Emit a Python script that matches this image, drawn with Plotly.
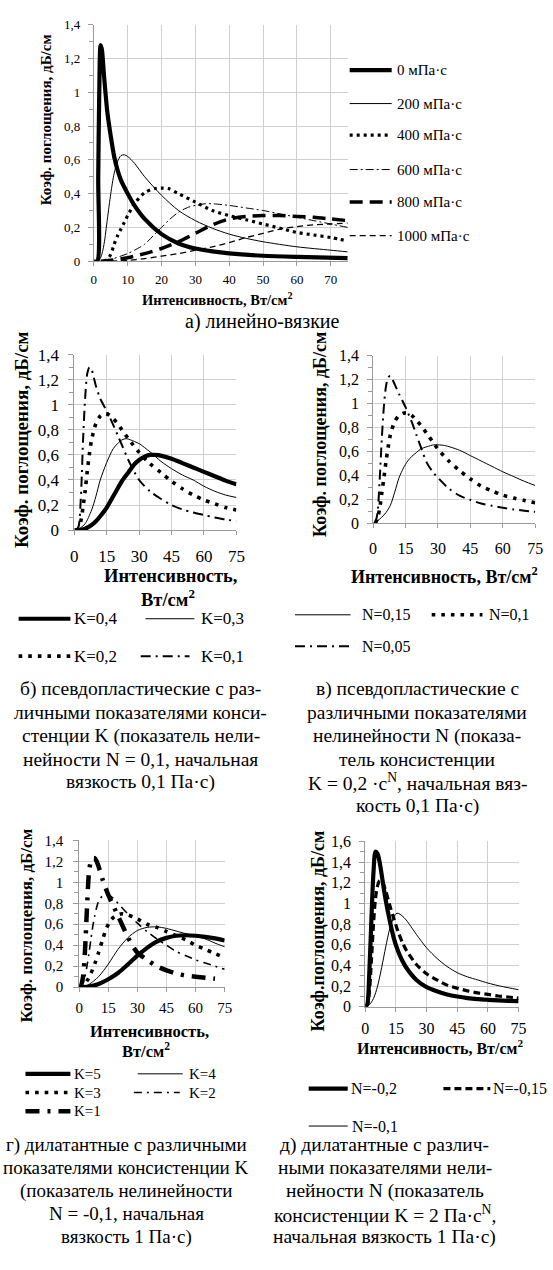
import plotly.graph_objects as go

W, H = 553, 1270
FONT = "'Liberation Serif', 'Times New Roman', Tinos, 'DejaVu Serif', serif"

# ================= DATA =================
# а) линейно-вязкие
a_names = ["0 мПа·с", "200 мПа·с", "400 мПа·с", "600 мПа·с", "800 мПа·с", "1000 мПа·с"]
a0_x = [0, 1, 1.3, 1.6, 2, 2.4, 3, 4, 5, 6, 7, 8, 10, 12, 15, 20, 25, 30, 35, 40, 50, 60, 75]
a0_y = [0, 0, 0.5, 1.0, 1.28, 1.25, 1.1, 0.88, 0.74, 0.62, 0.54, 0.48, 0.40, 0.33, 0.25, 0.16, 0.105, 0.075, 0.058, 0.046, 0.032, 0.025, 0.018]
a200_x = [1, 2, 3, 4, 5, 6, 7, 8, 9, 10, 12, 15, 20, 25, 30, 35, 40, 45, 50, 60, 70, 75]
a200_y = [0, 0.02, 0.1, 0.25, 0.4, 0.52, 0.59, 0.625, 0.63, 0.62, 0.58, 0.5, 0.39, 0.3, 0.24, 0.195, 0.16, 0.135, 0.115, 0.085, 0.065, 0.055]
a400_x = [3, 4, 5, 6, 7, 8, 9, 10, 12, 15, 18, 20, 22, 25, 30, 35, 40, 45, 50, 55, 60, 65, 70, 75]
a400_y = [0, 0.01, 0.04, 0.1, 0.15, 0.19, 0.23, 0.27, 0.34, 0.405, 0.43, 0.433, 0.43, 0.40, 0.35, 0.30, 0.27, 0.245, 0.22, 0.195, 0.17, 0.155, 0.14, 0.12]
a600_x = [3, 5, 8, 10, 12, 15, 18, 20, 22, 25, 28, 30, 33, 35, 40, 45, 50, 55, 60, 65, 70, 75]
a600_y = [0, 0.01, 0.03, 0.045, 0.065, 0.10, 0.16, 0.2, 0.24, 0.29, 0.32, 0.33, 0.34, 0.34, 0.33, 0.315, 0.3, 0.28, 0.26, 0.24, 0.22, 0.2]
a800_x = [2, 5, 10, 15, 20, 25, 30, 35, 40, 45, 50, 55, 60, 65, 70, 75]
a800_y = [0, 0.005, 0.02, 0.045, 0.075, 0.115, 0.165, 0.215, 0.25, 0.265, 0.27, 0.27, 0.265, 0.26, 0.25, 0.24]
a1000_x = [5, 10, 15, 20, 25, 30, 35, 40, 45, 50, 55, 60, 65, 70, 75]
a1000_y = [0, 0.005, 0.015, 0.03, 0.045, 0.065, 0.085, 0.11, 0.14, 0.165, 0.19, 0.205, 0.215, 0.22, 0.225]

# б) псевдопластические, разные K
b_names = ["K=0,4", "K=0,3", "K=0,2", "K=0,1"]
b04_x = [0, 2, 5, 8, 10, 12, 15, 18, 20, 22, 25, 28, 30, 33, 35, 37, 40, 45, 50, 55, 60, 65, 70, 75]
b04_y = [0, 0, 0.01, 0.04, 0.07, 0.11, 0.18, 0.27, 0.33, 0.39, 0.46, 0.53, 0.56, 0.59, 0.6, 0.6, 0.595, 0.57, 0.535, 0.5, 0.465, 0.43, 0.395, 0.365]
b03_x = [1, 3, 5, 8, 10, 12, 15, 18, 20, 22, 24, 26, 30, 35, 40, 45, 50, 55, 60, 65, 70, 75]
b03_y = [0, 0.02, 0.05, 0.16, 0.27, 0.4, 0.54, 0.65, 0.69, 0.72, 0.73, 0.72, 0.69, 0.625, 0.55, 0.49, 0.44, 0.4, 0.35, 0.31, 0.28, 0.26]
b02_x = [1, 2, 3, 4, 5, 6, 7, 8, 10, 12, 14, 16, 18, 20, 22, 25, 30, 35, 40, 45, 50, 55, 60, 65, 70, 75]
b02_y = [0, 0.01, 0.07, 0.18, 0.31, 0.47, 0.61, 0.72, 0.85, 0.91, 0.93, 0.92, 0.89, 0.85, 0.8, 0.73, 0.62, 0.53, 0.46, 0.39, 0.33, 0.28, 0.24, 0.21, 0.18, 0.16]
b01_x = [1, 2, 3, 3.5, 4, 5, 6, 7, 8, 9, 10, 12, 15, 18, 20, 22, 25, 30, 35, 40, 45, 50, 55, 60, 65, 70, 75]
b01_y = [0, 0.03, 0.25, 0.45, 0.7, 1.05, 1.25, 1.3, 1.28, 1.22, 1.15, 1.05, 0.95, 0.84, 0.76, 0.68, 0.56, 0.4, 0.31, 0.25, 0.2, 0.165, 0.14, 0.12, 0.1, 0.085, 0.07]

# в) псевдопластические, разные N
v_names = ["N=0,15", "N=0,1", "N=0,05"]
v15_x = [0, 2, 4, 6, 8, 10, 12, 14, 16, 18, 20, 22, 25, 28, 30, 33, 36, 40, 45, 50, 55, 60, 65, 70, 75]
v15_y = [0, 0.02, 0.05, 0.09, 0.15, 0.26, 0.38, 0.46, 0.52, 0.56, 0.59, 0.62, 0.64, 0.655, 0.655, 0.65, 0.635, 0.61, 0.565, 0.52, 0.475, 0.43, 0.39, 0.35, 0.315]
v10_x = [1, 2, 3, 4, 5, 6, 7, 8, 10, 12, 14, 16, 18, 20, 22, 25, 28, 30, 35, 40, 45, 50, 55, 60, 65, 70, 75]
v10_y = [0, 0.04, 0.12, 0.25, 0.38, 0.52, 0.64, 0.74, 0.85, 0.9, 0.92, 0.92, 0.9, 0.86, 0.82, 0.745, 0.67, 0.62, 0.52, 0.44, 0.37, 0.31, 0.27, 0.235, 0.21, 0.19, 0.17]
v05_x = [1, 2, 3, 4, 5, 6, 7, 8, 9, 10, 12, 15, 18, 20, 22, 25, 28, 30, 35, 40, 45, 50, 55, 60, 65, 70, 75]
v05_y = [0, 0.08, 0.35, 0.7, 0.98, 1.15, 1.22, 1.23, 1.2, 1.16, 1.08, 0.97, 0.84, 0.74, 0.64, 0.5, 0.42, 0.38, 0.29, 0.23, 0.195, 0.165, 0.145, 0.13, 0.115, 0.105, 0.095]

# г) дилатантные, разные K
g_names = ["K=5", "K=4", "K=3", "K=2", "K=1"]
g5_x = [0, 5, 10, 15, 20, 25, 30, 35, 40, 45, 50, 55, 60, 65, 70, 75]
g5_y = [0, 0.005, 0.03, 0.075, 0.135, 0.215, 0.3, 0.375, 0.435, 0.47, 0.49, 0.495, 0.49, 0.48, 0.465, 0.445]
g4_x = [0, 3, 5, 10, 15, 20, 25, 30, 35, 40, 45, 50, 55, 60, 65, 70, 75]
g4_y = [0, 0.01, 0.025, 0.1, 0.22, 0.36, 0.47, 0.54, 0.57, 0.575, 0.56, 0.535, 0.51, 0.485, 0.46, 0.42, 0.385]
g3_x = [0, 2, 4, 6, 8, 10, 12, 14, 16, 18, 20, 22, 25, 30, 35, 40, 45, 50, 55, 60, 65, 70, 75]
g3_y = [0, 0.02, 0.06, 0.13, 0.22, 0.33, 0.45, 0.56, 0.63, 0.67, 0.69, 0.7, 0.69, 0.65, 0.6, 0.57, 0.53, 0.49, 0.45, 0.4, 0.36, 0.32, 0.28]
g2_x = [0, 1, 2, 3, 4, 5, 6, 7, 8, 9, 10, 12, 14, 16, 18, 20, 25, 30, 35, 40, 45, 50, 55, 60, 65, 70, 75]
g2_y = [0, 0.01, 0.04, 0.1, 0.2, 0.32, 0.45, 0.58, 0.68, 0.76, 0.82, 0.87, 0.885, 0.87, 0.84, 0.8, 0.7, 0.61, 0.53, 0.46, 0.4, 0.34, 0.3, 0.26, 0.23, 0.2, 0.17]
g1_x = [0, 1, 2, 3, 4, 5, 6, 7, 8, 9, 10, 12, 15, 18, 20, 22, 25, 28, 30, 35, 40, 45, 50, 55, 60, 65, 70]
g1_y = [0, 0.02, 0.1, 0.35, 0.75, 1.08, 1.2, 1.23, 1.23, 1.2, 1.15, 1.03, 0.88, 0.76, 0.68, 0.6, 0.48, 0.38, 0.33, 0.26, 0.2, 0.16, 0.13, 0.11, 0.1, 0.09, 0.08]

# д) дилатантные, разные N
d_names = ["N=-0,2", "N=-0,15", "N=-0,1"]
d20_x = [0, 1, 2, 3, 4, 5, 6, 7, 8, 9, 10, 12, 14, 16, 18, 20, 25, 30, 35, 40, 45, 50, 55, 60, 65, 70, 75]
d20_y = [0, 0.03, 0.35, 0.85, 1.3, 1.5, 1.48, 1.4, 1.28, 1.15, 1.03, 0.83, 0.66, 0.54, 0.45, 0.38, 0.26, 0.19, 0.15, 0.12, 0.1, 0.085, 0.075, 0.068, 0.062, 0.058, 0.055]
d15_x = [0, 1, 2, 3, 4, 5, 6, 7, 8, 9, 10, 12, 14, 16, 18, 20, 25, 30, 35, 40, 45, 50, 55, 60, 65, 70, 75]
d15_y = [0, 0.02, 0.15, 0.45, 0.8, 1.05, 1.17, 1.22, 1.22, 1.18, 1.12, 0.98, 0.85, 0.73, 0.63, 0.55, 0.41, 0.32, 0.26, 0.21, 0.18, 0.155, 0.135, 0.12, 0.105, 0.095, 0.085]
d10_x = [0, 2, 4, 6, 8, 10, 12, 14, 15, 16, 18, 20, 25, 30, 35, 40, 45, 50, 55, 60, 65, 70, 75]
d10_y = [0, 0.02, 0.08, 0.2, 0.38, 0.58, 0.76, 0.87, 0.9, 0.905, 0.88, 0.84, 0.7, 0.57, 0.47, 0.39, 0.33, 0.29, 0.26, 0.23, 0.205, 0.185, 0.165]

# tick labels
xt_a_vals = [0, 10, 20, 30, 40, 50, 60, 70]
xt_a_text = ["0", "10", "20", "30", "40", "50", "60", "70"]
xt_vals = [0, 15, 30, 45, 60, 75]
xt_text = ["0", "15", "30", "45", "60", "75"]
yt_vals = [0, 0.2, 0.4, 0.6, 0.8, 1.0, 1.2, 1.4]
yt_text = ["0", "0,2", "0,4", "0,6", "0,8", "1", "1,2", "1,4"]
yt16_vals = [0, 0.2, 0.4, 0.6, 0.8, 1.0, 1.2, 1.4, 1.6]
yt16_text = ["0", "0,2", "0,4", "0,6", "0,8", "1", "1,2", "1,4", "1,6"]

y_title = "Коэф. поглощения, дБ/см"
y_title_d = "Коэф.поглощения, дБ/см"
x_title = "Интенсивность, Вт/см<sup>2</sup>"
x_title_1 = "Интенсивность,"
x_title_2 = "Вт/см<sup>2</sup>"

# ================= STYLES =================
S = {
    "thick": dict(width=4.2, dash="solid"),
    "thin": dict(width=1.0, dash="solid"),
    "dot_a": dict(width=3.2, dash="3px,4px"),
    "dashdot_a": dict(width=1.0, dash="8px,3px,2px,3px"),
    "longdash_a": dict(width=3.5, dash="13px,7px"),
    "dash_a": dict(width=1.3, dash="6px,4px"),
    "dot_b": dict(width=3.6, dash="3.6px,6px"),
    "dashdot_b": dict(width=2.0, dash="10px,5px,2px,5px"),
    "dashdot_g": dict(width=1.6, dash="8px,5px,2px,5px"),
    "ldd_g": dict(width=4.5, dash="14px,8px,3px,8px"),
    "dash_d": dict(width=3.2, dash="7px,4px"),
}

def pxx(p):
    return p / W

def pxy(p):
    return 1 - p / H

# panel boxes (left, right, top, bottom) in pixels
panels = [
    dict(box=(92, 352, 16, 256), yr=1.4, xtv=xt_a_vals, xtt=xt_a_text, ytv=yt_vals, ytt=yt_text,
         tfs=13, xsto=2, ysto=5,
         series=[(a_names[0], a0_x, a0_y, "thick"), (a_names[1], a200_x, a200_y, "thin"),
                 (a_names[2], a400_x, a400_y, "dot_a"), (a_names[3], a600_x, a600_y, "dashdot_a"),
                 (a_names[4], a800_x, a800_y, "longdash_a"), (a_names[5], a1000_x, a1000_y, "dash_a")]),
    dict(box=(72, 238, 351, 529), yr=1.4, xtv=xt_vals, xtt=xt_text, ytv=yt_vals, ytt=yt_text,
         tfs=17, xsto=7, ysto=6,
         series=[(b_names[0], b04_x, b04_y, "thick"), (b_names[1], b03_x, b03_y, "thin"),
                 (b_names[2], b02_x, b02_y, "dot_b"), (b_names[3], b01_x, b01_y, "dashdot_b")]),
    dict(box=(378, 544, 352, 522), yr=1.4, xtv=xt_vals, xtt=xt_text, ytv=yt_vals, ytt=yt_text,
         tfs=16, xsto=7, ysto=5,
         series=[(v_names[0], v15_x, v15_y, "thin"), (v_names[1], v10_x, v10_y, "dot_b"),
                 (v_names[2], v05_x, v05_y, "dashdot_b")]),
    dict(box=(77, 226, 844, 993), yr=1.4, xtv=xt_vals, xtt=xt_text, ytv=yt_vals, ytt=yt_text,
         tfs=15, xsto=3, ysto=7,
         series=[(g_names[0], g5_x, g5_y, "thick"), (g_names[1], g4_x, g4_y, "thin"),
                 (g_names[2], g3_x, g3_y, "dot_b"), (g_names[3], g2_x, g2_y, "dashdot_g"),
                 (g_names[4], g1_x, g1_y, "ldd_g")]),
    dict(box=(370, 527, 845, 1013), yr=1.6, xtv=xt_vals, xtt=xt_text, ytv=yt16_vals, ytt=yt16_text,
         tfs=16, xsto=3, ysto=5,
         series=[(d_names[0], d20_x, d20_y, "thick"), (d_names[1], d15_x, d15_y, "dash_d"),
                 (d_names[2], d10_x, d10_y, "thin")]),
]

fig = go.Figure()
GRID = "#cfcfcf"
AXC = "#9a9a9a"
layout_axes = {}
for i, p in enumerate(panels):
    n = "" if i == 0 else str(i + 1)
    l, r, t, b = p["box"]
    for name, xs, ys, st in p["series"]:
        fig.add_trace(go.Scatter(
            x=xs, y=ys, name=name, mode="lines", xaxis="x" + n, yaxis="y" + n,
            line=dict(color="black", shape="spline", smoothing=0.8, **S[st]),
            showlegend=False, hoverinfo="skip"))
    layout_axes["xaxis" + n] = dict(
        domain=[pxx(l), pxx(r)], anchor="y" + n, range=[0, 75],
        tickmode="array", tickvals=p["xtv"], ticktext=p["xtt"],
        tickfont=dict(family=FONT, size=p["tfs"], color="black"),
        ticks="outside", ticklen=4, tickcolor=AXC, ticklabelstandoff=p["xsto"],
        showline=True, linecolor=AXC, linewidth=1, showgrid=True, gridcolor=GRID,
        gridwidth=1, zeroline=False, fixedrange=True)
    layout_axes["yaxis" + n] = dict(
        domain=[pxy(b), pxy(t)], anchor="x" + n, range=[0, p["yr"]],
        tickmode="array", tickvals=p["ytv"], ticktext=p["ytt"],
        tickfont=dict(family=FONT, size=p["tfs"], color="black"),
        ticks="outside", ticklen=5, tickcolor=AXC, ticklabelstandoff=p["ysto"],
        minor=dict(tickmode="linear", tick0=0, dtick=0.1, ticks="outside", ticklen=4,
                   tickcolor=AXC, showgrid=False),
        showline=True, linecolor=AXC, linewidth=1, showgrid=True, gridcolor=GRID,
        gridwidth=1, zeroline=False, fixedrange=True)

annotations = []
shapes = []

def text(x, y, s, size, bold=False, angle=0, xanchor="center"):
    annotations.append(dict(
        x=pxx(x), y=pxy(y), xref="paper", yref="paper", text=("<b>%s</b>" % s) if bold else s,
        showarrow=False, textangle=angle, xanchor=xanchor, yanchor="middle",
        font=dict(family=FONT, size=size, color="black")))

def legend_item(x0, x1, y, style, label, size, gap=3):
    shapes.append(dict(type="line", xref="paper", yref="paper", x0=pxx(x0), x1=pxx(x1),
                       y0=pxy(y), y1=pxy(y), line=dict(color="black", **S[style])))
    text(x1 + gap, y, label, size, xanchor="left")

# axis titles
text(43, 112, y_title, 15, bold=True, angle=-90)
text(218, 294, x_title, 14.5, bold=True)
text(18, 437, y_title, 19, bold=True, angle=-90)
text(171, 576, x_title_1, 18.5, bold=True)
text(168, 598, x_title_2, 18.5, bold=True)
text(323, 432, y_title, 18, bold=True, angle=-90)
text(451, 575, x_title, 18, bold=True)
text(23, 930, y_title, 17, bold=True, angle=-90)
text(149, 1038, x_title_1, 16.5, bold=True)
text(145, 1057, x_title_2, 16.5, bold=True)
text(322, 936, y_title_d, 18, bold=True, angle=-90)
text(446, 1054, x_title, 16, bold=True)

# legends
sa = panels[0]["series"]
for k, yy in enumerate([62, 96, 128, 163, 196, 230]):
    legend_item(354, 397, yy, sa[k][3], sa[k][0], 15)
sb = panels[1]["series"]
legend_item(15, 68, 619, sb[0][3], sb[0][0], 17, gap=2)
legend_item(145, 195, 619, sb[1][3], sb[1][0], 17, gap=5)
legend_item(15, 68, 657, sb[2][3], sb[2][0], 17, gap=2)
legend_item(140, 190, 657, sb[3][3], sb[3][0], 17, gap=10)
sv = panels[2]["series"]
legend_item(298, 355, 615, sv[0][3], sv[0][0], 16, gap=10)
legend_item(438, 490, 615, sv[1][3], sv[1][0], 16, gap=5)
legend_item(298, 355, 647, sv[2][3], sv[2][0], 16, gap=10)
sg = panels[3]["series"]
legend_item(22, 68, 1081, sg[0][3], sg[0][0], 15, gap=2)
legend_item(137, 183, 1081, sg[1][3], sg[1][0], 15, gap=4)
legend_item(22, 68, 1100, sg[2][3], sg[2][0], 15, gap=2)
legend_item(133, 180, 1100, sg[3][3], sg[3][0], 15, gap=7)
legend_item(22, 68, 1119, sg[4][3], sg[4][0], 15, gap=2)
sd = panels[4]["series"]
legend_item(312, 352, 1096, sd[0][3], sd[0][0], 16, gap=1)
legend_item(450, 498, 1096, sd[1][3], sd[1][0], 16, gap=1)
legend_item(312, 352, 1134, sd[2][3], sd[2][0], 16, gap=2)

# captions
text(265, 317, "а) линейно-вязкие", 20)
cap_b = ["б) псевдопластические с раз-", "личными показателями конси-",
         "стенции K (показатель нели-", "нейности N = 0,1, начальная", "вязкость 0,1 Па·с)"]
for k, s in enumerate(cap_b):
    text(140, 690 + 23.8 * k, s, 19.5)
cap_v = ["в) псевдопластические с", "различными показателями", "нелинейности N (показа-",
         "тель консистенции", "K = 0,2 ·c<sup>N</sup>, начальная вяз-", "кость 0,1 Па·с)"]
for k, s in enumerate(cap_v):
    text(423, 690 + 23.8 * k, s, 19.5)
cap_g = ["г) дилатантные с различными", "показателями консистенции K",
         "(показатель нелинейности", "N = -0,1, начальная", "вязкость 1 Па·с)"]
for k, s in enumerate(cap_g):
    text(125, 1153 + 23.3 * k, s, 19)
cap_d = ["д) дилатантные с различ-", "ными показателями нели-", "нейности N (показатель",
         "консистенции K = 2 Па·c<sup>N</sup>,", "начальная вязкость 1 Па·с)"]
for k, s in enumerate(cap_d):
    text(390, 1153 + 23.3 * k, s, 19.5)

fig.update_layout(
    width=W, height=H, margin=dict(l=0, r=0, t=0, b=0),
    paper_bgcolor="white", plot_bgcolor="white", showlegend=False,
    font=dict(family=FONT, color="black"),
    annotations=annotations, shapes=shapes, **layout_axes)

fig.write_html("out.html", config={"displayModeBar": False},
               post_script="document.body.style.margin='0';document.body.style.overflow='hidden';")
